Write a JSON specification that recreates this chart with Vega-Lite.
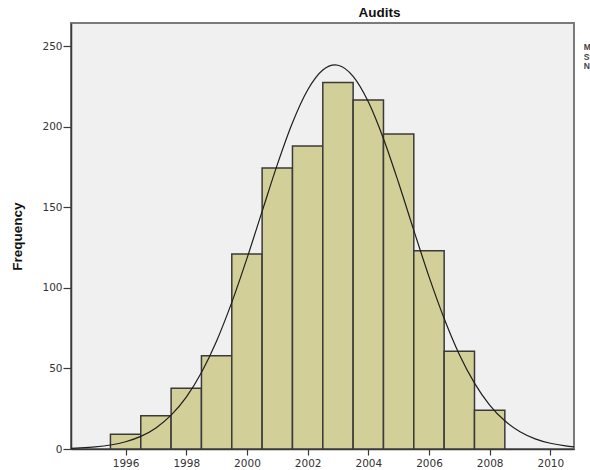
{
  "$schema": "https://vega.github.io/schema/vega-lite/v6.json",
  "autosize": "none",
  "width": 503,
  "height": 426,
  "padding": {"left": 71, "top": 23, "right": 16, "bottom": 21},
  "background": "white",
  "title": {"text": "Audits", "font": "Liberation Sans", "fontSize": 13.5, "fontWeight": "bold", "color": "#111", "anchor": "middle", "dx": 57, "offset": 4},
  "config": {
    "view": {"fill": "#f0f0f0", "stroke": "#7a7a7a", "strokeWidth": 2},
    "axis": {"grid": false, "domainColor": "#3a3a3a", "domainWidth": 1.5, "tickColor": "#3a3a3a", "tickWidth": 1.2, "labelFont": "DejaVu Sans", "labelFontSize": 10.5, "labelColor": "#333"}
  },
  "datasets": {
    "bars": [
      {"bin_start": 1995.5, "bin_end": 1996.5, "count": 9.1},
      {"bin_start": 1996.5, "bin_end": 1997.5, "count": 20.7},
      {"bin_start": 1997.5, "bin_end": 1998.5, "count": 37.7},
      {"bin_start": 1998.5, "bin_end": 1999.5, "count": 57.9},
      {"bin_start": 1999.5, "bin_end": 2000.5, "count": 121},
      {"bin_start": 2000.5, "bin_end": 2001.5, "count": 174.4},
      {"bin_start": 2001.5, "bin_end": 2002.5, "count": 188.1},
      {"bin_start": 2002.5, "bin_end": 2003.5, "count": 227.4},
      {"bin_start": 2003.5, "bin_end": 2004.5, "count": 216.6},
      {"bin_start": 2004.5, "bin_end": 2005.5, "count": 195.5},
      {"bin_start": 2005.5, "bin_end": 2006.5, "count": 123.1},
      {"bin_start": 2006.5, "bin_end": 2007.5, "count": 60.6},
      {"bin_start": 2007.5, "bin_end": 2008.5, "count": 24.0}
    ],
    "curve": [
      {"year": 1994.2, "freq": 0.43},
      {"year": 1994.5, "freq": 0.67},
      {"year": 1995, "freq": 1.31},
      {"year": 1995.5, "freq": 2.49},
      {"year": 1996, "freq": 4.51},
      {"year": 1996.5, "freq": 7.85},
      {"year": 1997, "freq": 13.1},
      {"year": 1997.5, "freq": 21.0},
      {"year": 1998, "freq": 32.2},
      {"year": 1998.5, "freq": 47.5},
      {"year": 1999, "freq": 67.1},
      {"year": 1999.5, "freq": 91.0},
      {"year": 2000, "freq": 118.3},
      {"year": 2000.5, "freq": 147.5},
      {"year": 2001, "freq": 176.5},
      {"year": 2001.5, "freq": 202.5},
      {"year": 2002, "freq": 222.8},
      {"year": 2002.5, "freq": 235.2},
      {"year": 2002.9, "freq": 238.4},
      {"year": 2003, "freq": 238.2},
      {"year": 2003.5, "freq": 231.3},
      {"year": 2004, "freq": 215.5},
      {"year": 2004.5, "freq": 192.6},
      {"year": 2005, "freq": 165.1},
      {"year": 2005.5, "freq": 135.7},
      {"year": 2006, "freq": 107.0},
      {"year": 2006.5, "freq": 81.0},
      {"year": 2007, "freq": 58.7},
      {"year": 2007.5, "freq": 40.9},
      {"year": 2008, "freq": 27.3},
      {"year": 2008.5, "freq": 17.5},
      {"year": 2009, "freq": 10.7},
      {"year": 2009.5, "freq": 6.32},
      {"year": 2010, "freq": 3.57},
      {"year": 2010.5, "freq": 1.94},
      {"year": 2010.78, "freq": 1.35}
    ],
    "legend": [
      {"year": 2011.1, "freq": 249.5, "label": "Mean =2002.9"},
      {"year": 2011.1, "freq": 243.3, "label": "Std. Dev. =2.45"},
      {"year": 2011.1, "freq": 237.6, "label": "N =1,465"}
    ]
  },
  "layer": [
    {
      "data": {"name": "bars"},
      "mark": {"type": "bar", "fill": "#d3cf99", "stroke": "#3a3a3a", "strokeWidth": 1.5, "opacity": 1},
      "encoding": {
        "x": {"field": "bin_start", "type": "quantitative", "scale": {"domain": [1994.2, 2010.78], "nice": false, "zero": false},
              "axis": {"values": [1996, 1998, 2000, 2002, 2004, 2006, 2008, 2010], "format": "d", "title": null, "tickSize": 6, "labelPadding": 3, "labelFlush": false}},
        "x2": {"field": "bin_end"},
        "y": {"field": "count", "type": "quantitative", "scale": {"domain": [0, 264.4], "nice": false},
              "axis": {"values": [0, 50, 100, 150, 200, 250], "title": "Frequency", "titleFont": "Liberation Sans", "titleFontSize": 13.5, "titleFontWeight": "bold", "titleColor": "#111", "titlePadding": 17, "tickSize": 8, "labelPadding": 1}},
        "y2": {"datum": 0}
      }
    },
    {
      "data": {"name": "curve"},
      "mark": {"type": "line", "stroke": "#1e1e1e", "strokeWidth": 1.2, "interpolate": "monotone"},
      "encoding": {
        "x": {"field": "year", "type": "quantitative"},
        "y": {"field": "freq", "type": "quantitative"}
      }
    },
    {
      "data": {"name": "legend"},
      "mark": {"type": "text", "align": "left", "baseline": "middle", "font": "Liberation Sans", "fontSize": 8.5, "fontWeight": "bold", "color": "#444", "clip": false},
      "encoding": {
        "x": {"field": "year", "type": "quantitative"},
        "y": {"field": "freq", "type": "quantitative"},
        "text": {"field": "label"}
      }
    }
  ]
}
